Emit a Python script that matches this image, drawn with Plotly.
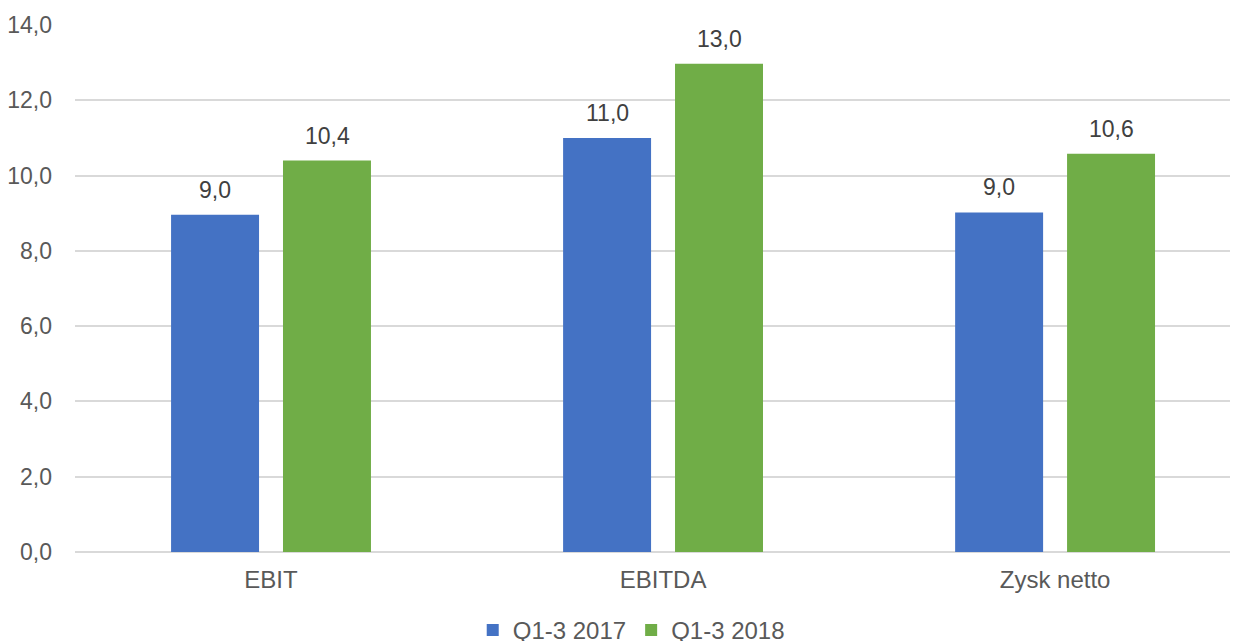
import plotly.graph_objects as go

categories = ["EBIT", "EBITDA", "Zysk netto"]
series_2017 = [8.96, 11.0, 9.02]
series_2018 = [10.4, 12.97, 10.58]
series_names = ["Q1-3 2017", "Q1-3 2018"]
y_ticks = [0, 2, 4, 6, 8, 10, 12, 14]

FONT = "Liberation Sans, Arial, sans-serif"
TXT = "#595959"
COLORS = ["#4472C4", "#70AD47"]
LABEL_XSHIFT = [-56, 56]

fig = go.Figure()
for i, (name, vals) in enumerate([(series_names[0], series_2017),
                                   (series_names[1], series_2018)]):
    fig.add_trace(go.Bar(
        x=categories, y=vals, name=name,
        marker=dict(color=COLORS[i], line=dict(width=0)),
        hoverinfo="x+y+name",
    ))
    for c, v in zip(categories, vals):
        fig.add_annotation(
            x=c, y=v, xref="x", yref="y",
            text=f"{v:.1f}".replace(".", ","),
            showarrow=False, xshift=LABEL_XSHIFT[i], yshift=25,
            yanchor="middle", xanchor="center",
            font=dict(family=FONT, size=23, color="#404040"),
        )

fig.update_layout(
    width=1238, height=641,
    margin=dict(l=67, r=0, t=17, b=97, autoexpand=False),
    paper_bgcolor="white", plot_bgcolor="white",
    barmode="group", bargap=0.429, bargroupgap=0.214,
    separators=", ",
    font=dict(family=FONT, size=23, color=TXT),
    showlegend=True,
    legend=dict(orientation="h", x=0.475, xanchor="center", y=-0.106, yanchor="top",
                font=dict(family=FONT, size=24, color=TXT), traceorder="normal",
                itemwidth=30, tracegroupgap=0),
    xaxis=dict(range=[-0.5, 2.487], showgrid=False, showline=False, ticks="",
               tickfont=dict(family=FONT, size=24, color=TXT), ticklabelstandoff=11),
    yaxis=dict(range=[0, 14], tickvals=y_ticks, tickformat=".1f",
               showgrid=True, gridcolor="#D9D9D9", gridwidth=1.5,
               zeroline=True, zerolinecolor="#D9D9D9", zerolinewidth=1.5,
               showline=False, ticks="", ticklabelstandoff=22,
               tickfont=dict(family=FONT, size=23, color=TXT)),
)

fig.write_html("out.html")
